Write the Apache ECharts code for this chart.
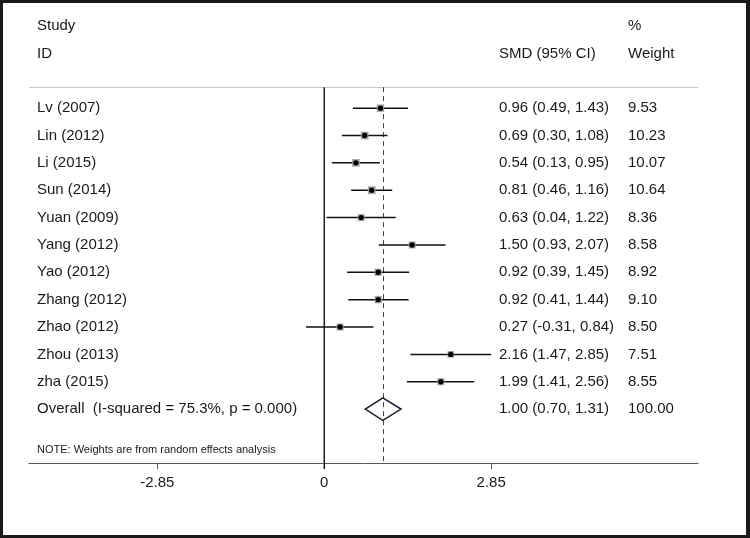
<!DOCTYPE html>
<html>
<head>
<meta charset="utf-8">
<script src="https://cdn.jsdelivr.net/npm/echarts@6/dist/echarts.min.js"></script>
<style>
html,body{margin:0;padding:0;background:#1a1a1a;}
#chart{width:750px;height:538px;}
</style>
</head>
<body>
<div id="chart"></div>
<script>
// ---- data ----
const studies = ['Lv (2007)','Lin (2012)','Li (2015)','Sun (2014)','Yuan (2009)','Yang (2012)','Yao (2012)','Zhang (2012)','Zhao (2012)','Zhou (2013)','zha (2015)'];
const smd    = [0.96, 0.69, 0.54, 0.81, 0.63, 1.50, 0.92, 0.92, 0.27, 2.16, 1.99];
const lower  = [0.49, 0.30, 0.13, 0.46, 0.04, 0.93, 0.39, 0.41, -0.31, 1.47, 1.41];
const upper  = [1.43, 1.08, 0.95, 1.16, 1.22, 2.07, 1.45, 1.44, 0.84, 2.85, 2.56];
const weights = [9.53, 10.23, 10.07, 10.64, 8.36, 8.58, 8.92, 9.10, 8.50, 7.51, 8.55];
const overallLabel = 'Overall  (I-squared = 75.3%, p = 0.000)';
const overall = [1.00, 0.70, 1.31]; // estimate, lower, upper
const overallWeight = '100.00';
const headerRow1 = ['Study', '', '%'];
const headerRow2 = ['ID', 'SMD (95% CI)', 'Weight'];
const noteText = 'NOTE: Weights are from random effects analysis';
const tickValues = [-2.85, 0, 2.85];

// ---- layout ----
const FONT = '"Liberation Sans", Arial, sans-serif';
const TXT = '#1a1a1a';
const colName = 37, colCI = 499, colW = 628;
const xMin = -5.04, xMax = 6.38;
const yMin = -3.8, yMax = 12.97;
const sepRow = -0.767;
const rowPx = 27.36;
const gridBottomPx = 75;
const gridTopPx = (538 - gridBottomPx) - (yMax - yMin) * rowPx;
const overallRow = studies.length;
const noteRow = overallRow + 1.5;

const f2 = v => v.toFixed(2);
const rowsData = studies.map((s, i) => [i, smd[i], lower[i], upper[i], weights[i]]);

function txt(text, x, y, size) {
  return {type:'text', style:{text:text, x:x, y:y, fill:TXT, font:(size||15)+'px '+FONT, verticalAlign:'middle', align:'left'}};
}

const chart = echarts.init(document.getElementById('chart'), null, {renderer:'canvas'});
chart.setOption({
  backgroundColor:'#1a1a1a',
  animation:false,
  graphic:[{type:'rect', z:-10, shape:{x:3, y:3, width:743, height:532}, style:{fill:'#ffffff'}}],
  grid:{left:29, right:52, top:gridTopPx, bottom:gridBottomPx, containLabel:false},
  xAxis:{
    type:'value', min:xMin, max:xMax,
    splitLine:{show:false},
    axisLine:{show:true, onZero:false, lineStyle:{color:'#555', width:1}},
    axisTick:{show:true, customValues:tickValues, length:6, lineStyle:{color:'#555'}},
    axisLabel:{show:true, customValues:tickValues, margin:12, color:TXT, fontSize:15, fontFamily:FONT,
      formatter: v => String(v)}
  },
  yAxis:{type:'value', inverse:true, min:yMin, max:yMax, show:false, splitLine:{show:false}},
  series:[
    {
      type:'line', data:[], silent:true,
      markLine:{symbol:'none', silent:true, label:{show:false},
        data:[
          [{coord:[xMin, sepRow], lineStyle:{color:'#c8c8c8', width:1, type:'solid'}}, {coord:[xMax, sepRow]}],
          [{coord:[overall[0], sepRow], lineStyle:{color:'#444', width:1, type:[5,4]}}, {coord:[overall[0], yMax]}]
        ]}
    },
    {
      // vertical line of no effect, running down through the zero tick
      type:'custom', data:[[0]], clip:false, z:6, silent:true,
      renderItem:function(params, api){
        const x0 = api.value(0);
        const pTop = api.coord([x0, sepRow]), pBot = api.coord([x0, yMax]);
        return {type:'line', shape:{x1:pTop[0], y1:pTop[1], x2:pBot[0], y2:pBot[1] + 6}, style:{stroke:'#000', lineWidth:1.3}};
      }
    },
    {
      type:'custom', data:rowsData, clip:false, z:5,
      renderItem:function(params, api){
        const i = api.value(0), est = api.value(1), lo = api.value(2), hi = api.value(3), w = api.value(4);
        const pLo = api.coord([lo, i]), pHi = api.coord([hi, i]), pE = api.coord([est, i]);
        const s = 2.4 * Math.sqrt(w);
        const idx = params.dataIndex;
        return {type:'group', children:[
          {type:'line', shape:{x1:pLo[0], y1:pLo[1], x2:pHi[0], y2:pHi[1]}, style:{stroke:'#111', lineWidth:1.5}},
          {type:'rect', shape:{x:pE[0]-s/2, y:pE[1]-s/2, width:s, height:s}, style:{fill:'#a3a3a3'}},
          {type:'circle', shape:{cx:pE[0], cy:pE[1], r:2.7}, style:{fill:'#000'}},
          txt(studies[idx], colName, pE[1]),
          txt(f2(smd[idx]) + ' (' + f2(lower[idx]) + ', ' + f2(upper[idx]) + ')', colCI, pE[1]),
          txt(f2(weights[idx]), colW, pE[1])
        ]};
      }
    },
    {
      type:'custom', data:[[overallRow, overall[0], overall[1], overall[2]]], clip:false, z:5,
      renderItem:function(params, api){
        const r = api.value(0), est = api.value(1), lo = api.value(2), hi = api.value(3);
        const h = 0.41;
        const pts = [api.coord([lo, r]), api.coord([est, r - h]), api.coord([hi, r]), api.coord([est, r + h])];
        const y = api.coord([est, r])[1];
        return {type:'group', children:[
          {type:'polygon', shape:{points:pts}, style:{fill:'none', stroke:'#1b1b33', lineWidth:1.5}},
          txt(overallLabel, colName, y),
          txt(f2(overall[0]) + ' (' + f2(overall[1]) + ', ' + f2(overall[2]) + ')', colCI, y),
          txt(overallWeight, colW, y)
        ]};
      }
    },
    {
      type:'custom', data:[[-3, 0], [-2, 1], [noteRow, 2]], clip:false, z:5,
      renderItem:function(params, api){
        const r = api.value(0), k = api.value(1);
        const y = api.coord([0, r])[1];
        if (k === 2) return {type:'group', children:[txt(noteText, colName, y, 11)]};
        const h = k === 0 ? headerRow1 : headerRow2;
        return {type:'group', children:[txt(h[0], colName, y), txt(h[1], colCI, y), txt(h[2], colW, y)]};
      }
    }
  ]
});
</script>
</body>
</html>
